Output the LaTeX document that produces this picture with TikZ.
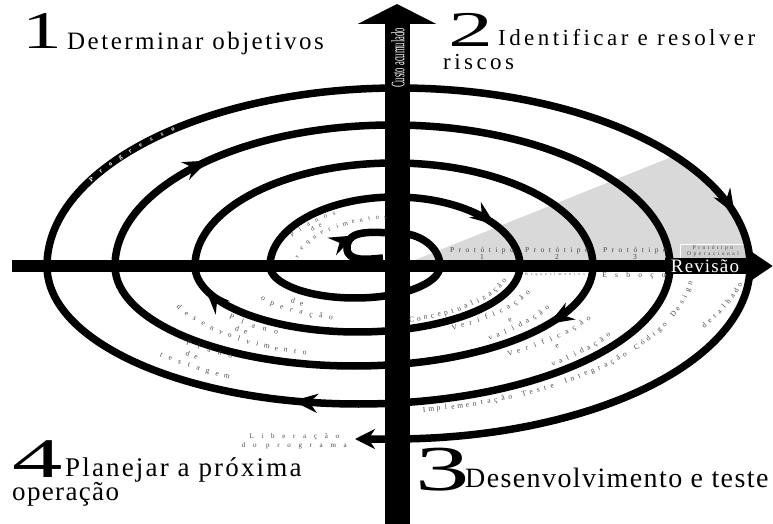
\documentclass[tikz,border=0pt]{standalone}
\usepackage{fontspec}
\setmainfont{Liberation Serif}
\usetikzlibrary{arrows.meta, decorations.markings}

% one letter after another along the ellipse round #2 with radii #3 and #4,
% first letter at angle #5, letters #6pt apart (negative #6: clockwise)
\newcommand\arctext[7][]{%
  \xdef\arcang{#5}%
  \foreach \arcch in {#7}{%
    \pgfmathsetmacro\arcrot{atan2((#6)*(#4)*cos(\arcang), -1*(#6)*(#3)*sin(\arcang))}%
    \node[letter, #1, rotate=\arcrot] at ([shift={(#2)}]\arcang:#3 and #4) {\arcch};
    \pgfmathsetmacro\arcnext{\arcang + (#6)/((#3)*sqrt(sin(\arcang)^2 + ((#4)/(#3)*cos(\arcang))^2))*57.29578}%
    \xdef\arcang{\arcnext}%
  }%
}

\begin{document}
\begin{tikzpicture}[x=1pt, y=1pt,
    spiral/.style={line width=7.5pt},
    headat/.style={postaction={decorate, decoration={markings,
        mark=at position #1 with {\arrow{Stealth[length=25pt, width=19pt]}}}}},
    letter/.style={inner sep=0pt, anchor=base, text=black!72,
        font=\fontsize{7.5}{8}\selectfont},
    tag/.style={inner sep=0pt, text=black!72, align=center},
    phase/.style={inner sep=0pt, anchor=base west},
    numeral/.style={inner sep=0pt, anchor=base west}]

    % page of 773 x 524, origin where the two axes cross
    \useasboundingbox (-397,-258) rectangle (376,266);

    % grey sector of the prototypes
    \fill[gray!30] (13,4) -- (277,110) arc[start angle=38.4, end angle=0, x radius=351.5, y radius=178] -- cycle;
    \draw[white, line width=0.6pt, fill=gray!38] (283,8) rectangle (349,22);

    % the spiral, half an ellipse at a time
    \draw[spiral, headat=0.36] (-14,8) to[out=185, in=-90] (-50,18) to[out=90, in=180] (0,33)
        arc[start angle=90, end angle=0, x radius=43, y radius=33];
    \draw[spiral] (43,0) arc[start angle=0, end angle=-180, x radius=85, y radius=32];
    \draw[spiral, headat=0.84] (-127,0) arc[start angle=180, end angle=0, x radius=125, y radius=69];
    \draw[spiral, headat=0.93] (123,0) arc[start angle=0, end angle=-180, x radius=162.5, y radius=66];
    \draw[spiral] (-202,0) arc[start angle=180, end angle=0, x radius=199, y radius=103];
    \draw[spiral, headat=0.137] (196,0) arc[start angle=0, end angle=-180, x radius=239, y radius=100];
    \draw[spiral, headat=0.22] (-282,0) arc[start angle=180, end angle=0, x radius=277.5, y radius=141];
    \draw[spiral, headat=0.59] (273,0) arc[start angle=0, end angle=-180, x radius=311.5, y radius=138];
    \draw[spiral, headat=0.936] (-350,0) arc[start angle=180, end angle=0, x radius=351.5, y radius=178];
    \draw[spiral, -{Stealth[length=20pt, width=20pt]}] (353,0)
        arc[start angle=0, end angle=-90, x radius=357.5, y radius=173] -- (-42,-173);

    % the two axes
    \coordinate (west) at (-385,0);
    \coordinate (east) at (376,0);
    \coordinate (south) at (0,-258);
    \coordinate (north) at (0,262);
    \draw[line width=12pt, -{Triangle[length=27pt, width=34pt]}] (west) -- (east);
    \draw[line width=25pt, -{Triangle[length=20pt, width=78pt]}] (south) -- (north);
    \fill (268,-8) rectangle (349,8);

    % axis labels
    \node[rotate=90, text=white, inner sep=0pt, font=\fontsize{19}{20}\selectfont] (custo) at (1,208)
        {\scalebox{0.45}[1]{Custo acumulado}};
    \node[text=white, inner sep=0pt, font=\fontsize{19}{20}\selectfont\addfontfeatures{LetterSpace=6}] (revisao) at (308,0) {Revisão};

    % prototypes above the axis, phases below it
    \node[tag, anchor=south, font=\fontsize{7.5}{7.5}\selectfont\addfontfeatures{LetterSpace=60}] (proto1) at (85,6) {Protótipo\\1};
    \node[tag, anchor=south, font=\fontsize{7.5}{7.5}\selectfont\addfontfeatures{LetterSpace=60}] (proto2) at (160,6) {Protótipo\\2};
    \node[tag, anchor=south, font=\fontsize{7.5}{7.5}\selectfont\addfontfeatures{LetterSpace=60}] (proto3) at (238,6) {Protótipo\\3};
    \node[tag, anchor=south, font=\fontsize{5.5}{6.5}\selectfont\addfontfeatures{LetterSpace=45}] (protoop) at (316,9) {Protótipo\\Operacional};
    \node[tag, font=\fontsize{3.8}{4}\selectfont\addfontfeatures{LetterSpace=80}] (requer) at (158,-9) {Requerimentos};
    \node[tag, font=\fontsize{7.5}{8}\selectfont\addfontfeatures{LetterSpace=110}] (esboco) at (237,-10) {Esboço};
    \node[tag, anchor=east, font=\fontsize{7}{9}\selectfont\addfontfeatures{LetterSpace=110}] (liberacao) at (-50,-175) {Liberação\\do programa};

    % text along the turns
    \arctext[text=white, font=\fontsize{6.5}{7}\selectfont\bfseries]{1.5,0}{349.5}{176}{151}{-11.7}{P,r,o,g,r,e,s,s,o}
    \arctext[font=\fontsize{6.5}{7}\selectfont]{-2,0}{117}{59}{150}{-9}{P,l,a,n,o,s}
    \arctext[font=\fontsize{6.5}{7}\selectfont]{-2,0}{108}{53.5}{139}{-8}{d,e}
    \arctext[font=\fontsize{6.5}{7}\selectfont]{-2,0}{98}{47}{169}{-8}{r,e,q,u,e,r,i,m,e,n,t,o,s}
    \arctext{-40,0}{110}{46}{234}{9}{d,e}
    \arctext{-40,0}{122}{54.5}{219}{10}{o,p,e,r,a,ç,ã,o}
    \arctext{-41,0}{177}{76}{225}{11.5}{P,l,a,n,o}
    \arctext{-41,0}{190}{84}{231}{9}{d,e}
    \arctext{-41,0}{202}{92}{208}{9.6}{d,e,s,e,n,v,o,l,v,i,m,e,n,t,o}
    \arctext{-44,0}{247}{106}{228}{10.9}{P,l,a,n,o}
    \arctext{-44,0}{264}{116}{231}{9}{d,e}
    \arctext{-44,0}{277}{126}{226}{9.8}{t,e,s,t,a,g,e,m}
    \arctext{-40,0}{154}{60}{291}{7.1}{C,o,n,c,e,p,t,u,a,l,i,z,a,ç,ã,o}
    \arctext{-41,0}{187}{75}{302}{8.5}{V,e,r,i,f,i,c,a,ç,ã,o}
    \arctext{-41,0}{202}{86}{320}{8}{e}
    \arctext{-41,0}{217}{94}{308.5}{8.3}{v,a,l,i,d,a,ç,ã,o}
    \arctext{-44,0}{272}{110}{305.5}{8.8}{V,e,r,i,f,i,c,a,ç,ã,o}
    \arctext{-44,0}{285}{118}{316}{8}{e}
    \arctext{-44,0}{302}{134}{311.8}{7.9}{v,a,l,i,d,a,ç,ã,o}
    \arctext{-38.5,0}{336}{149}{281.3}{7.3}{I,m,p,l,e,m,e,n,t,a,ç,ã,o,{},T,e,s,t,e,{},I,n,t,e,g,r,a,ç,ã,o,{},C,ó,d,i,g,o,{},D,e,s,i,g,n}
    \arctext{-40,20}{395}{173}{332}{7}{d,e,t,a,l,h,a,d,o}

    % the four quadrants
    \node[numeral, font=\fontsize{53}{53}\selectfont] (one) at (-375,217) {\scalebox{1.5}[1]{1}};
    \node[phase, font=\fontsize{25}{27}\selectfont\addfontfeatures{LetterSpace=10}] (goals) at (-330,216) {Determinar objetivos};
    \node[numeral, font=\fontsize{50}{50}\selectfont] (two) at (51,219) {\scalebox{1.8}[1]{2}};
    \node[phase, font=\fontsize{23}{25}\selectfont\addfontfeatures{LetterSpace=15}] (risks) at (101,220) {Identificar e resolver};
    \node[phase, font=\fontsize{23}{25}\selectfont\addfontfeatures{LetterSpace=15}] (risks2) at (46,196) {riscos};
    \node[numeral, font=\fontsize{64}{64}\selectfont] (three) at (18,-224) {\scalebox{1.7}[1]{3}};
    \node[phase, font=\fontsize{28}{30}\selectfont\addfontfeatures{LetterSpace=5}] (build) at (68,-221) {Desenvolvimento e teste};
    \node[numeral, font=\fontsize{56}{56}\selectfont] (four) at (-385,-211) {\scalebox{1.8}[1]{4}};
    \node[phase, font=\fontsize{27}{29}\selectfont\addfontfeatures{LetterSpace=8}] (plan) at (-332,-210) {Planejar a próxima};
    \node[phase, font=\fontsize{27}{29}\selectfont\addfontfeatures{LetterSpace=5}] (plan2) at (-385,-234) {operação};
\end{tikzpicture}
\end{document}
